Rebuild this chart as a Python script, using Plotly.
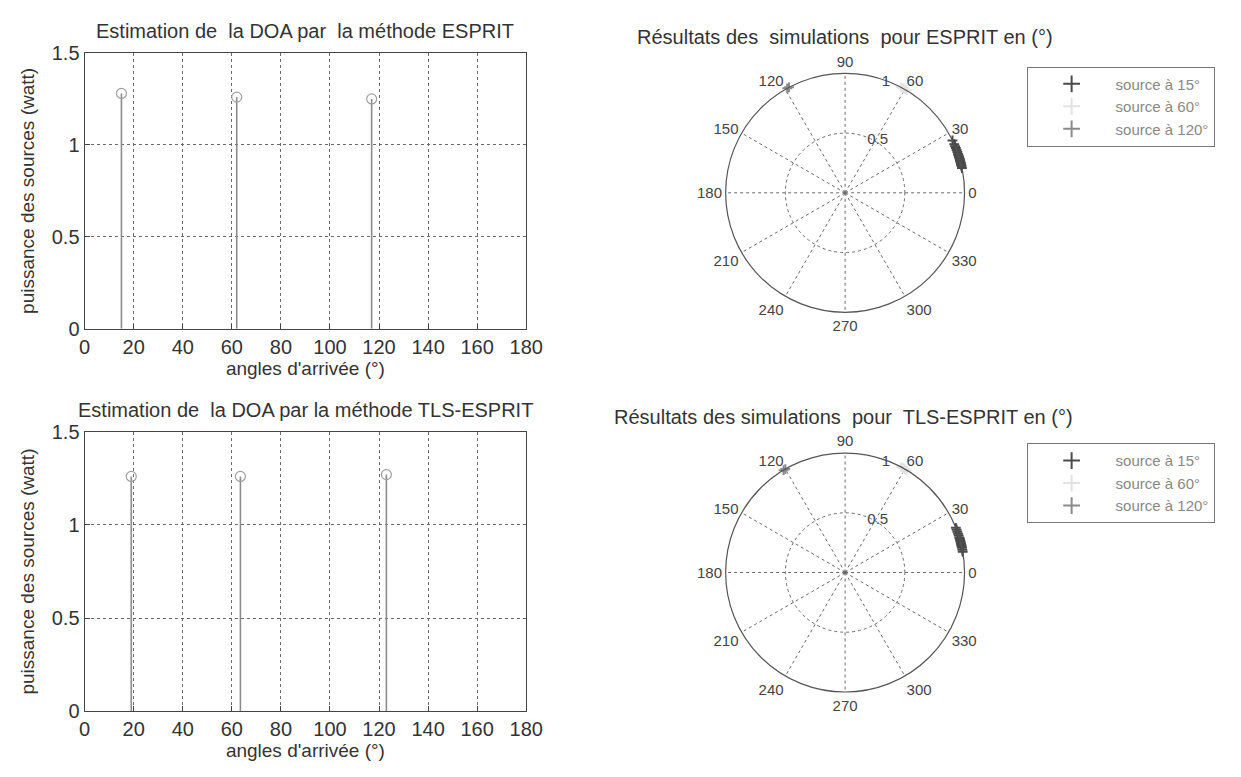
import plotly.graph_objects as go

# ---------------- data ----------------
x_ticks = [0, 20, 40, 60, 80, 100, 120, 140, 160, 180]
y_ticks = [0, 0.5, 1, 1.5]

esprit_angles = [15, 62, 117]
esprit_power = [1.28, 1.26, 1.25]

tls_angles = [19, 63.5, 123]
tls_power = [1.26, 1.26, 1.27]

polar_ticks = [0, 30, 60, 90, 120, 150, 180, 210, 240, 270, 300, 330]
polar_ticktext = ["0", "30", "60", "90", "120", "150", "180", "210", "240", "270", "300", "330"]
radial_ticks = [0.5, 1]
radial_ticktext = ["0.5", "1"]

legend_names = ["source à 15°", "source à 60°", "source à 120°"]

# simulated estimates (degrees) and normalised amplitude
esprit_theta_15 = [12, 13, 13.5, 14, 14.5, 15, 15.5, 16, 16.5, 17, 17.5, 18, 18.5, 19, 20, 21, 22, 23, 24, 26]
esprit_r_15 = [1, 1, 1, 1, 1, 1, 1, 1, 1, 1, 1, 1, 1, 1, 1, 1, 1, 1, 1, 1]
esprit_theta_60 = [59, 60, 61, 62]
esprit_r_60 = [1, 1, 1, 1]
esprit_theta_120 = [118, 119]
esprit_r_120 = [1, 1]

tls_theta_15 = [10, 11, 12, 12.5, 13, 13.5, 14, 14.5, 15, 15.5, 16, 16.5, 17, 18, 19, 20, 21, 22]
tls_r_15 = [1, 1, 1, 1, 1, 1, 1, 1, 1, 1, 1, 1, 1, 1, 1, 1, 1, 1]
tls_theta_60 = [59, 60, 61, 62]
tls_r_60 = [1, 1, 1, 1]
tls_theta_120 = [120, 121]
tls_r_120 = [1, 1]

# ---------------- styles ----------------
FONT = "Liberation Sans, Arial, sans-serif"
TXT = "#333333"
AX = "#444444"
GRID = "#6a6a6a"
STEM = "#8c8c8c"
SRC_COLORS = ["#4a4a4a", "#e2e2e2", "#8a8a8a"]

# page body keeps an 8 px margin: size the figure so the page is 1241 x 777
OFF = 8
W, H = 1241 - 2 * OFF, 777 - 2 * OFF


def PX(px):
    return (px - OFF) / W


def PY(py):
    return 1 - (py - OFF) / H


fig = go.Figure()


def add_stems(angles, power, xa, ya):
    fig.add_trace(go.Scatter(
        x=angles, y=power, mode="markers", xaxis=xa, yaxis=ya,
        marker=dict(symbol="circle-open", size=10, color="#a0a0a0", line=dict(width=1.2)),
        error_y=dict(type="data", symmetric=False, array=[0] * len(power), arrayminus=power,
                     color=STEM, thickness=1.6, width=0),
        showlegend=False, hoverinfo="x+y"))


add_stems(esprit_angles, esprit_power, "x", "y")
add_stems(tls_angles, tls_power, "x2", "y2")


def add_polar(thetas, rs, subplot, legend):
    for th, rr, name, col in zip(thetas, rs, legend_names, SRC_COLORS):
        fig.add_trace(go.Scatterpolar(
            theta=th, r=rr, mode="markers", name=name, subplot=subplot, legend=legend,
            marker=dict(symbol="cross-thin", size=7, color=col, line=dict(width=2, color=col))))


add_polar([esprit_theta_15, esprit_theta_60, esprit_theta_120],
          [esprit_r_15, esprit_r_60, esprit_r_120], "polar", "legend")
add_polar([tls_theta_15, tls_theta_60, tls_theta_120],
          [tls_r_15, tls_r_60, tls_r_120], "polar2", "legend2")


def xax(domain, anchor):
    return dict(domain=domain, anchor=anchor, range=[0, 180], tickvals=x_ticks,
                ticks="inside", ticklen=5, tickcolor=AX, showline=True, mirror=True,
                linecolor=AX, linewidth=1.2, showgrid=True, gridcolor=GRID, griddash="dot",
                gridwidth=1, zeroline=False, tickfont=dict(size=20, color=TXT, family=FONT),
                title=dict(text="angles d'arrivée (°)", font=dict(size=19, color=TXT, family=FONT),
                           standoff=4))


def yax(domain, anchor):
    return dict(domain=domain, anchor=anchor, range=[0, 1.5], tickvals=y_ticks,
                ticks="inside", ticklen=5, tickcolor=AX, showline=True, mirror=True,
                linecolor=AX, linewidth=1.2, showgrid=True, gridcolor=GRID, griddash="dot",
                gridwidth=1, zeroline=False, tickfont=dict(size=20, color=TXT, family=FONT),
                title=dict(text="puissance des sources (watt)",
                           font=dict(size=19, color=TXT, family=FONT), standoff=12))


xl = [PX(80), PX(530)]


def polar_layout(cy):
    r = 123
    return dict(
        domain=dict(x=[PX(855 - r), PX(855 + r)], y=[PY(cy + r), PY(cy - r)]),
        bgcolor="white",
        radialaxis=dict(range=[0, 1], tickvals=radial_ticks, ticktext=radial_ticktext,
                        angle=76, tickangle=76, showline=False, ticks="",
                        gridcolor=GRID, griddash="dot", gridwidth=1,
                        tickfont=dict(size=15, color="#444", family=FONT)),
        angularaxis=dict(tickmode="array", tickvals=polar_ticks, ticktext=polar_ticktext,
                         direction="counterclockwise", rotation=0, showline=True,
                         linecolor="#555", linewidth=1.2, gridcolor=GRID, griddash="dot",
                         gridwidth=1, ticks="", tickfont=dict(size=15, color="#444", family=FONT)))


legend_style = dict(bgcolor="white", bordercolor="#777", borderwidth=1,
                    font=dict(size=15, color="#888", family=FONT),
                    xanchor="left", yanchor="top", itemsizing="constant",
                    itemwidth=78)

title_font = dict(size=20, color=TXT, family=FONT)

fig.update_layout(
    width=W, height=H, margin=dict(l=0, r=0, t=0, b=0),
    paper_bgcolor="white", plot_bgcolor="white",
    font=dict(family=FONT, color=TXT),
    xaxis=xax(xl, "y"),
    yaxis=yax([PY(327), PY(43)], "x"),
    xaxis2=xax(xl, "y2"),
    yaxis2=yax([PY(721), PY(433)], "x2"),
    polar=polar_layout(187),
    polar2=polar_layout(578),
    legend=dict(x=PX(1040), y=PY(57), **legend_style),
    legend2=dict(x=PX(1040), y=PY(445), **legend_style),
    annotations=[
        dict(text="Estimation de  la DOA par  la méthode ESPRIT", x=PX(305), y=PY(20),
             xref="paper", yref="paper", showarrow=False, xanchor="center", yanchor="middle",
             font=title_font),
        dict(text="Estimation de  la DOA par la méthode TLS-ESPRIT", x=PX(305), y=PY(411),
             xref="paper", yref="paper", showarrow=False, xanchor="center", yanchor="middle",
             font=title_font),
        dict(text="Résultats des  simulations  pour ESPRIT en (°)", x=PX(855), y=PY(27),
             xref="paper", yref="paper", showarrow=False, xanchor="center", yanchor="middle",
             font=title_font),
        dict(text="Résultats des simulations  pour  TLS-ESPRIT en (°)", x=PX(853), y=PY(418),
             xref="paper", yref="paper", showarrow=False, xanchor="center", yanchor="middle",
             font=title_font),
    ],
)

fig.write_html("out.html", config={"displayModeBar": False})
